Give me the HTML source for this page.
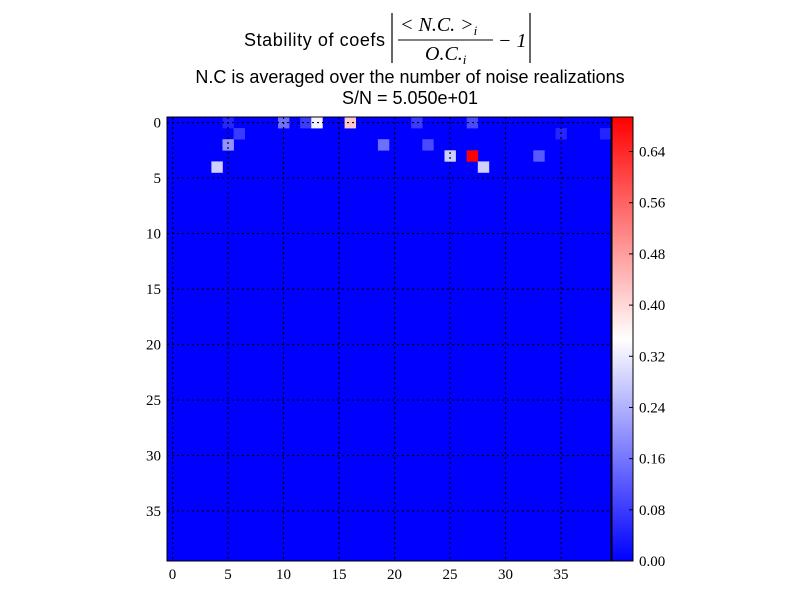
<!DOCTYPE html>
<html><head><meta charset="utf-8"><style>
body{margin:0;background:#fff;width:800px;height:600px;overflow:hidden}
svg{display:block}
.t{font-family:"Liberation Sans",sans-serif;font-size:18px}
.m{font-family:"Liberation Serif",serif;font-style:italic;font-size:20px}
.k{font-family:"Liberation Serif",serif;font-size:15px}
</style></head><body>
<svg id="c" width="800" height="600">
<g>
<text class="t" x="244" y="46" textLength="141">Stability of coefs</text>
<line x1="392" y1="13" x2="392" y2="63" stroke="#000" stroke-width="1.2"/>
<text class="m" x="400" y="31">&lt; N.C. &gt;<tspan font-size="13" dy="4">i</tspan></text>
<line x1="398" y1="40" x2="493" y2="40" stroke="#000" stroke-width="1"/>
<text class="m" x="425" y="60">O.C.<tspan font-size="13" dy="4">i</tspan></text>
<text class="m" x="498" y="47" font-style="normal">− 1</text>
<line x1="530" y1="13" x2="530" y2="63" stroke="#000" stroke-width="1.2"/>
</g>
<text class="t" x="410" y="83" text-anchor="middle">N.C is averaged over the number of noise realizations</text>
<text class="t" x="410" y="104" text-anchor="middle">S/N = 5.050e+01</text>
<defs><linearGradient id="bwr" x1="0" y1="1" x2="0" y2="0">
<stop offset="0" stop-color="#0000ff"/><stop offset="0.5" stop-color="#ffffff"/><stop offset="1" stop-color="#ff0000"/></linearGradient></defs>
<g id="cells"></g><g id="grid"></g><g id="axes"></g>
</svg>
<script>
const nRows = 40, nCols = 40;
const cellRows = [0,0,0,0,0,0,0, 1,1,1, 2,2,2, 3,3,3, 4,4];
const cellCols = [5,10,12,13,16,22,27, 6,35,39, 5,19,23, 25,27,33, 4,28];
const cellVals = [0.05,0.15,0.08,0.33,0.42,0.08,0.10, 0.08,0.05,0.05, 0.20,0.15,0.10, 0.28,0.694,0.12, 0.28,0.28];
const vmax = 0.694;
const xTicks = [0,5,10,15,20,25,30,35];
const yTicks = [0,5,10,15,20,25,30,35];
const cbTicks = [0.00,0.08,0.16,0.24,0.32,0.40,0.48,0.56,0.64];
const X0=167,Y0=117,W=444,H=444,cw=W/nCols,ch=H/nRows;
const sx=c=>X0+(c+0.5)*cw, sy=r=>Y0+(r+0.5)*ch;
const NS="http://www.w3.org/2000/svg";
function mk(t,a,p){const e=document.createElementNS(NS,t);for(const k in a)e.setAttribute(k,a[k]);p.appendChild(e);return e;}
function col(v){const t=Math.max(0,Math.min(1,v/vmax));let r,g,b;
 if(t<0.5){r=g=Math.round(255*t*2);b=255;}else{r=255;g=b=Math.round(255*(1-t)*2);}return `rgb(${r},${g},${b})`;}
const cells=document.getElementById('cells'),grid=document.getElementById('grid'),axes=document.getElementById('axes');
const bg=mk('rect',{x:X0,y:Y0,width:W,height:H,fill:'#0000ff'},cells);


cellVals.forEach((v,i)=>{const r=mk('rect',{x:sx(cellCols[i])-cw/2,y:sy(cellRows[i])-ch/2,width:cw+0.3,height:ch+0.3,fill:col(v)},cells);
 
 });
xTicks.forEach(t=>{const x=sx(t);
 mk('line',{x1:x,y1:Y0,x2:x,y2:Y0+H,stroke:'#000','stroke-dasharray':'2,3','stroke-width':1.2},grid);
 const tx=mk('text',{x:x,y:Y0+H+18,'text-anchor':'middle',class:'k'},axes);tx.textContent=t;
 
 });
yTicks.forEach(t=>{const y=sy(t);
 mk('line',{x1:X0,y1:y,x2:X0+W,y2:y,stroke:'#000','stroke-dasharray':'2,3','stroke-width':1.2},grid);
 const tx=mk('text',{x:X0-6,y:y+5,'text-anchor':'end',class:'k'},axes);tx.textContent=t;
 
 });
const fr=mk('rect',{x:X0,y:Y0,width:W,height:H,fill:'none',stroke:'#000','stroke-width':1},axes);


const CX=612,CW=21;
const cb=mk('rect',{x:CX,y:Y0,width:CW,height:H,fill:'url(#bwr)',stroke:'#000','stroke-width':1},axes);


cbTicks.forEach(t=>{const y=Y0+H-t/vmax*H;
 mk('line',{x1:CX+CW-4,y1:y,x2:CX+CW,y2:y,stroke:'#000'},axes);
 const tx=mk('text',{x:CX+CW+6,y:y+5,class:'k'},axes);tx.textContent=t.toFixed(2);
 
 });
</script>
</body></html>
